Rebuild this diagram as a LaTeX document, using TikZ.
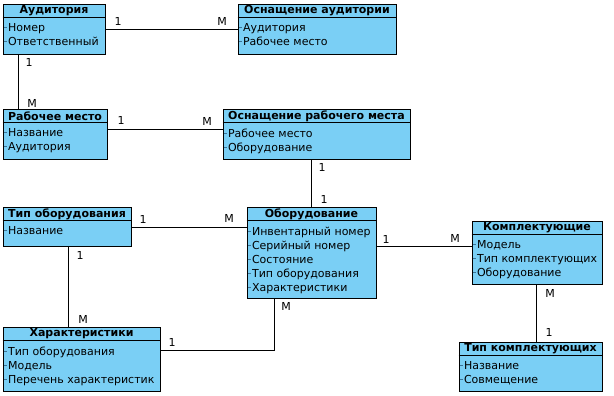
\documentclass[tikz,border=0pt]{standalone}
\usepackage{fontspec}
\setmainfont{DejaVu Sans}
\usetikzlibrary{fit,calc}
\definecolor{efill}{RGB}{122,207,245}
\definecolor{edash}{RGB}{60,115,150}
\tikzset{
  ebox/.style={draw=black, fill=efill, line width=0.9pt, inner sep=0pt},
  etitle/.style={font=\fontsize{11}{12}\selectfont\bfseries, inner sep=0pt},
  eattr/.style={font=\fontsize{11}{14}\selectfont, align=left, inner sep=0pt, anchor=north west},
  conn/.style={draw=black, line width=0.9pt},
  card/.style={font=\fontsize{11}{12}\selectfont, inner sep=0pt}
}
\newcommand\dsh{\textcolor{edash}{\rule[3.3pt]{3pt}{1.1pt}}\kern0.8pt}
% name, left, top, right, bottom, title, attrs
\newcommand\entity[7]{%
  \node[ebox, fit={(#2,#3) (#4,#5)}] (#1) {};
  \draw[line width=0.9pt] ($(#1.north west)+(0,14)$) -- ($(#1.north east)+(0,14)$);
  \node[etitle] at ($(#1.north)+(0,7.5)$) {#6};
  \node[eattr] at ($(#1.north west)+(1.5,20)$) {#7};
}
\begin{document}
\begin{tikzpicture}[x=1pt,y=-1pt]
\useasboundingbox (0,0) rectangle (614,396);
\entity{aud}{3}{4}{105}{54}{Аудитория}{\dsh Номер\\\dsh Ответственный}
\entity{osaud}{238}{4}{396}{54}{Оснащение аудитории}{\dsh Аудитория\\\dsh Рабочее место}
\entity{rm}{3}{109}{107}{159}{Рабочее место}{\dsh Название\\\dsh Аудитория}
\entity{orm}{223}{109}{410}{159}{Оснащение рабочего места}{\dsh Рабочее место\\\dsh Оборудование}
\entity{to}{3}{207}{131}{246}{Тип оборудования}{\dsh Название}
\entity{ob}{247}{207}{376}{298}{Оборудование}{\dsh Инвентарный номер\\\dsh Серийный номер\\\dsh Состояние\\\dsh Тип оборудования\\\dsh Характеристики}
\entity{har}{3}{327}{160}{391}{Характеристики}{\dsh Тип оборудования\\\dsh Модель\\\dsh Перечень характеристик}
\entity{kom}{472}{221}{602}{284}{Комплектующие}{\dsh Модель\\\dsh Тип комплектующих\\\dsh Оборудование}
\entity{tk}{459}{342}{602}{391}{Тип комплектующих}{\dsh Название\\\dsh Совмещение}

% connectors
\draw[conn] (aud.east |- 0,29) -- (osaud.west |- 0,29);
\draw[conn] (aud.south -| 18,0) -- (rm.north -| 18,0);
\draw[conn] (rm.east |- 0,129) -- (orm.west |- 0,129);
\draw[conn] (orm.south -| 311,0) -- (ob.north -| 311,0);
\draw[conn] (to.east |- 0,227) -- (ob.west |- 0,227);
\draw[conn] (to.south -| 68,0) -- (har.north -| 68,0);
\draw[conn] (har.east |- 0,350) -| (ob.south -| 274,0);
\draw[conn] (ob.east |- 0,246) -- (kom.west |- 0,246);
\draw[conn] (kom.south -| 536,0) -- (tk.north -| 536,0);

% cardinalities
\node[card] at (118,21) {1};
\node[card] at (222,21) {M};
\node[card] at (29,62) {1};
\node[card] at (32,103) {M};
\node[card] at (121,120) {1};
\node[card] at (207,121) {M};
\node[card] at (322,167) {1};
\node[card] at (324,199) {1};
\node[card] at (143,219) {1};
\node[card] at (229,218) {M};
\node[card] at (80,255) {1};
\node[card] at (83,319) {M};
\node[card] at (172,342) {1};
\node[card] at (286,306) {M};
\node[card] at (386,239) {1};
\node[card] at (455,238) {M};
\node[card] at (550,293) {M};
\node[card] at (549,332) {1};
\end{tikzpicture}
\end{document}
